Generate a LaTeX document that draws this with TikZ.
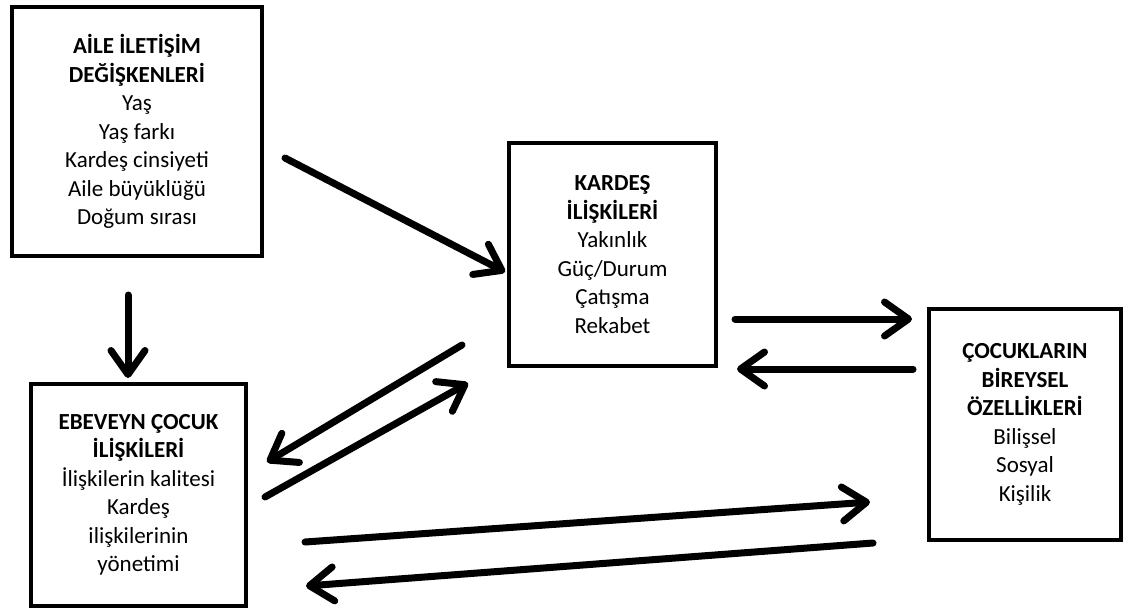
\documentclass[tikz,border=0pt]{standalone}
\usepackage{fontspec}
\setmainfont{Carlito}
\usetikzlibrary{arrows.meta}
\begin{document}
\begin{tikzpicture}[x=1pt,y=-1pt,
  box/.style={draw, line width=4pt, align=center, inner sep=0pt,
    font=\fontsize{23}{28.5}\selectfont},
  arr/.style={line width=7pt, line cap=round,
    -{Straight Barb[length=24pt,width=34pt,line cap=round,line join=round]}}]
\useasboundingbox (0,0) rectangle (1126,614);
\fill[white] (0,0) rectangle (1126,614);

\node[box, minimum width=250pt, minimum height=249pt] (aile) at (137,131.5)
  {\textbf{AİLE İLETİŞİM}\\\textbf{DEĞİŞKENLERİ}\\Yaş\\Yaş farkı\\Kardeş cinsiyeti\\Aile büyüklüğü\\Doğum sırası};
\node[box, minimum width=207pt, minimum height=223pt] (kardes) at (612.5,254.5)
  {\textbf{KARDEŞ}\\\textbf{İLİŞKİLERİ}\\Yakınlık\\Güç/Durum\\Çatışma\\Rekabet};
\node[box, minimum width=192pt, minimum height=231pt] (cocuk) at (1025,424.5)
  {\textbf{ÇOCUKLARIN}\\\textbf{BİREYSEL}\\\textbf{ÖZELLİKLERİ}\\Bilişsel\\Sosyal\\Kişilik};
\node[box, minimum width=215pt, minimum height=222pt] (ebeveyn) at (138.5,495)
  {\textbf{EBEVEYN ÇOCUK}\\\textbf{İLİŞKİLERİ}\\İlişkilerin kalitesi\\Kardeş\\ilişkilerinin\\yönetimi};

\coordinate (a1s) at (285,158);  \coordinate (a1e) at (505,272);
\coordinate (a2s) at (128,295);  \coordinate (a2e) at (128,378);
\coordinate (a3s) at (462,345);  \coordinate (a3e) at (267,462);
\coordinate (a4s) at (265,497);  \coordinate (a4e) at (468,383);
\coordinate (a5s) at (735,319);  \coordinate (a5e) at (912,319);
\coordinate (a6s) at (913,369);  \coordinate (a6e) at (737,369);
\coordinate (a7s) at (305,542);  \coordinate (a7e) at (870,502);
\coordinate (a8s) at (873,543);  \coordinate (a8e) at (306,586);

\draw[arr] (a1s) -- (a1e);
\draw[arr] (a2s) -- (a2e);
\draw[arr] (a3s) -- (a3e);
\draw[arr] (a4s) -- (a4e);
\draw[arr] (a5s) -- (a5e);
\draw[arr] (a6s) -- (a6e);
\draw[arr] (a7s) -- (a7e);
\draw[arr] (a8s) -- (a8e);
\end{tikzpicture}
\end{document}
